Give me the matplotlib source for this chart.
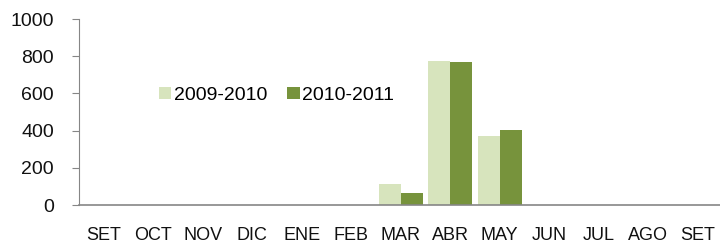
import matplotlib.pyplot as plt
from matplotlib import font_manager
import numpy as np

# monthly values
months = ["SET", "OCT", "NOV", "DIC", "ENE", "FEB", "MAR", "ABR", "MAY",
          "JUN", "JUL", "AGO", "SET"]
season_0910 = [0, 0, 0, 0, 0, 0, 115, 775, 370, 0, 0, 0, 0]
season_1011 = [0, 0, 0, 0, 0, 0, 65, 768, 405, 0, 0, 0, 0]
series_names = ["2009-2010", "2010-2011"]
y_ticks = [0, 200, 400, 600, 800, 1000]

light = "#d7e4bd"
dark = "#77933c"
grey = "#868686"

names = {f.name for f in font_manager.fontManager.ttflist}
narrow = "Liberation Sans Narrow" if "Liberation Sans Narrow" in names else "Liberation Sans"

plt.rcParams['font.family'] = ['Liberation Sans', 'DejaVu Sans']

fig = plt.figure(figsize=(7.2, 2.44), dpi=100)
ax = fig.add_axes([79 / 720, 39 / 244, 641 / 720, 186 / 244])

x = np.arange(len(months))
w = 0.44
ax.bar(x - w / 2, season_0910, width=w, color=light, label=series_names[0])
ax.bar(x + w / 2, season_1011, width=w, color=dark, label=series_names[1])

ax.set_xlim(-0.5, 12.45)
ax.set_ylim(0, 1000)
ax.set_yticks(y_ticks)
ax.set_yticklabels([str(v) for v in y_ticks], fontsize=14, color="#111111")
ax.set_xticks(x)
ax.set_xticklabels(months, fontsize=13, family=narrow, color="#111111")

for s in ["top", "right"]:
    ax.spines[s].set_visible(False)
ax.spines["left"].set_color(grey)
ax.spines["bottom"].set_color(grey)
ax.spines["bottom"].set_linewidth(1.2)
ax.tick_params(axis="y", direction="out", length=5, color=grey, pad=13)
ax.tick_params(axis="x", length=0, pad=16)

fig.legend(loc="center", bbox_to_anchor=(0.384, 0.61), ncol=2, frameon=False,
           fontsize=14, handlelength=0.65, handleheight=0.65, handletextpad=0.15,
           columnspacing=1.0)

fig.savefig("out.png", dpi=100)
